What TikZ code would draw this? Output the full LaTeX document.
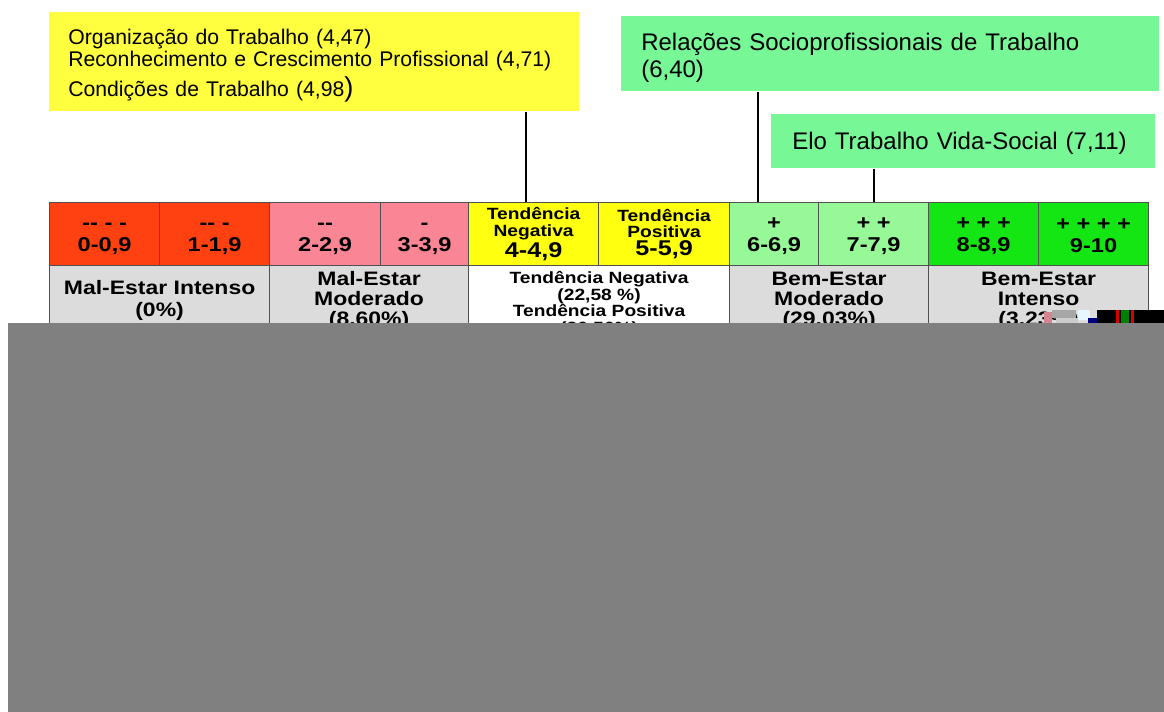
\documentclass[tikz,border=0pt]{standalone}
\usepackage{fontspec}
\setmainfont{Liberation Sans}
\newfontfamily\tb{Liberation Sans}[FakeStretch=1.18]
\definecolor{ybox}{HTML}{FFFF40}
\definecolor{gbox}{HTML}{77F796}
\definecolor{cred}{HTML}{FF4010}
\definecolor{cpink}{HTML}{FA8595}
\definecolor{cyel}{HTML}{FFFF10}
\definecolor{clg}{HTML}{96F896}
\definecolor{cbg}{HTML}{14E614}
\definecolor{cgray}{HTML}{DCDCDC}
\definecolor{tbline}{HTML}{505050}
\definecolor{occl}{HTML}{808080}
\newcommand{\hs}{\rule{0pt}{12pt}}
\begin{document}
\begin{tikzpicture}[x=0.75pt,y=-0.75pt,
  cell/.style={draw=tbline, line width=0.9pt, inner sep=0pt, anchor=north west, align=center, minimum height=47.25pt},
  cellb/.style={cell, minimum height=52.5pt},
  ftop/.style={font=\tb\bfseries\fontsize{15pt}{16.5pt}\selectfont},
  fyel/.style={font=\tb\bfseries\fontsize{12.2pt}{12.6pt}\selectfont},
  fbig/.style={font=\tb\bfseries\fontsize{14.6pt}{15pt}\selectfont},
  fsm/.style={font=\tb\bfseries\fontsize{12.2pt}{12.4pt}\selectfont},
  lbl/.style={inner ysep=0pt, anchor=north west, align=left},
  conn/.style={draw=black, line width=1.4pt}]
\useasboundingbox[fill=white] (0,0) rectangle (1164,712);
% label boxes
\node[lbl, fill=ybox, minimum height=74.25pt, text width=369pt, inner xsep=14.25pt,
      font=\fontsize{15.9pt}{16.5pt}\selectfont] (yb) at (49,12)
  {\rule{0pt}{17.5pt}Organização do Trabalho (4,47)\\
   Reconhecimento e Crescimento Profissional (4,71)\\[3pt]
   Condições de Trabalho (4,98{\fontsize{20.5pt}{20pt}\selectfont )}};
\node[lbl, fill=gbox, minimum height=56.25pt, text width=373.5pt, inner xsep=15pt,
      font=\fontsize{18pt}{20.25pt}\selectfont] (gb) at (621,16)
  {\rule{0pt}{19pt}Relações Socioprofissionais de Trabalho\\(6,40)};
\node[lbl, fill=gbox, minimum height=40.5pt, text width=256.5pt, inner xsep=15.75pt,
      font=\fontsize{18pt}{20.25pt}\selectfont] (eb) at (771,114)
  {\rule{0pt}{16pt}Elo Trabalho Vida-Social (7,11)};
% table row 1
\node[cell, ftop, fill=cred,  minimum width=82.5pt]  (c1) at (49,202)  {\hs-{}- - -\\0-0,9};
\node[cell, ftop, fill=cred,  minimum width=82.5pt]  (c2) at (159,202) {\hs-{}- -\\1-1,9};
\node[cell, ftop, fill=cpink, minimum width=83.25pt] (c3) at (269,202) {\hs-{}-\\2-2,9};
\node[cell, ftop, fill=cpink, minimum width=66pt]    (c4) at (380,202) {\hs-\\3-3,9};
\node[cell, fyel, fill=cyel,  minimum width=97.5pt]  (c5) at (468,202) {Tendência\\Negativa\\[1pt]{\fontsize{16pt}{14pt}\selectfont 4-4,9}};
\node[cell, fyel, fill=cyel,  minimum width=98.25pt] (c6) at (598,202) {Tendência\\Positiva\\[1pt]{\fontsize{16pt}{14pt}\selectfont 5-5,9}};
\node[cell, ftop, fill=clg,   minimum width=66.75pt] (c7) at (729,202) {\hs+\\6-6,9};
\node[cell, ftop, fill=clg,   minimum width=82.5pt]  (c8) at (818,202) {\hs+ +\\7-7,9};
\node[cell, ftop, fill=cbg,   minimum width=82.5pt]  (c9) at (928,202) {\hs+ + +\\8-8,9};
\node[cell, ftop, fill=cbg,   minimum width=82.5pt]  (c10) at (1038,202) {\hs+ + + +\\9-10};
% table row 2
\node[cellb, fbig, fill=cgray, minimum width=165pt, font=\tb\bfseries\fontsize{14.6pt}{16.5pt}\selectfont] (r1) at (49,265) {Mal-Estar Intenso\\(0\%)};
\node[cellb, fbig, fill=cgray, minimum width=149.25pt] (r2) at (269,265) {Mal-Estar\\Moderado\\(8.60\%)};
\node[cellb, fsm,  fill=white, minimum width=195.75pt] (r3) at (468,265) {\rule{0pt}{13.5pt}Tendência Negativa\\(22,58 \%)\\Tendência Positiva\\(36,56\%)};
\node[cellb, fbig, fill=cgray, minimum width=149.25pt] (r4) at (729,265) {Bem-Estar\\Moderado\\(29.03\%)};
\node[cellb, fbig, fill=cgray, minimum width=165pt]    (r5) at (928,265) {Bem-Estar\\Intenso\\(3.23\%)};
% connectors
\coordinate (t1) at (526,202);
\coordinate (t2) at (758,202);
\draw[conn] (yb.south -| t1) -- (t1);
\draw[conn] (gb.south -| t2) -- (t2);
\draw[conn] (eb.south -| c8.north) -- (c8.north);
% occluding panel
\fill[occl] (8,323) rectangle (1164,712);
\fill[black] (1097,310) rectangle (1164,323);
\fill[red!85!black] (1116,310) rectangle (1119,323);
\fill[green!50!black] (1121,310) rectangle (1129,323);
\fill[red!85!black] (1131,310) rectangle (1134,323);
\fill[cpink!70!gray] (1044,312) rectangle (1052,323);
\fill[gray!70] (1052,310) rectangle (1076,318);
\fill[gray!40] (1056,318) rectangle (1078,323);
\fill[cyan!10] (1078,310) rectangle (1090,320);
\fill[blue!50!black] (1088,318) rectangle (1097,323);
\end{tikzpicture}
\end{document}
